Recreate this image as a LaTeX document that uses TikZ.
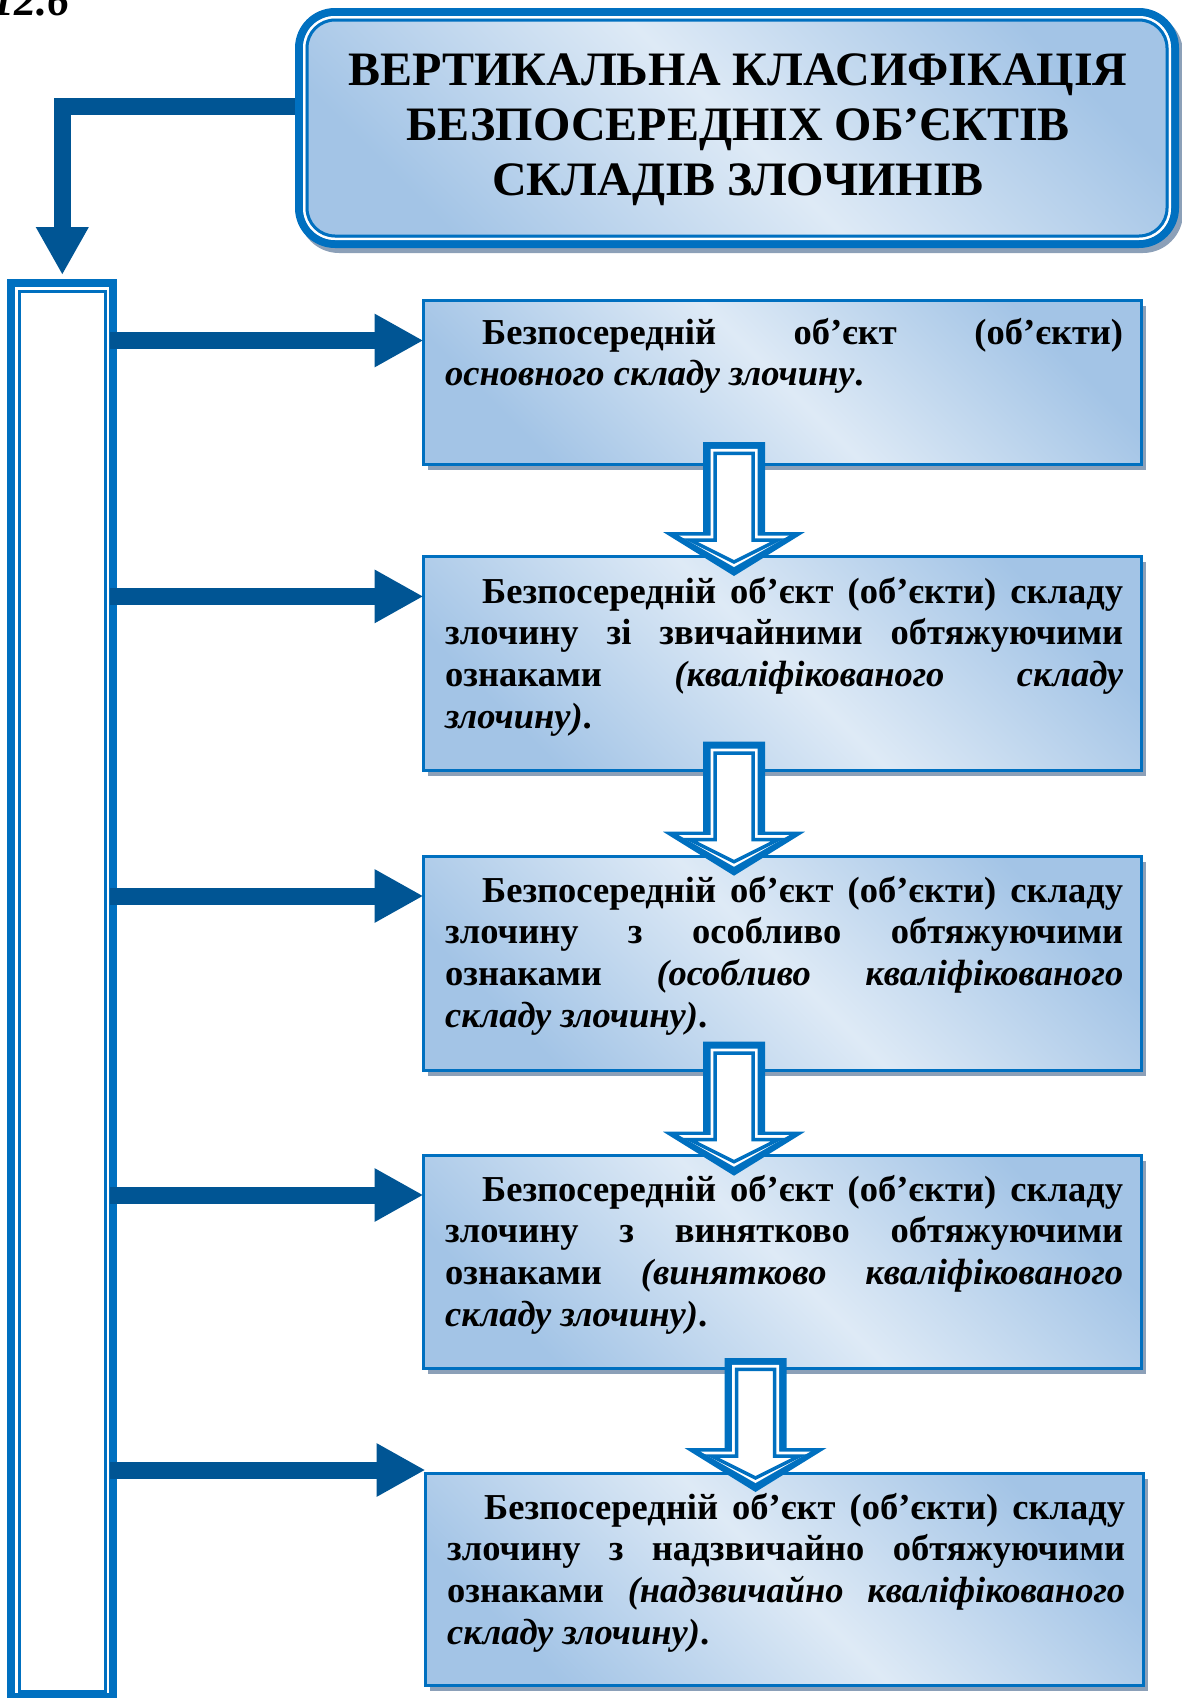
\documentclass[tikz,border=0pt]{standalone}
\usepackage{fontspec}
\setmainfont{Liberation Serif}
\usetikzlibrary{arrows.meta,shadows}
\definecolor{bordblue}{RGB}{0,112,192}
\definecolor{darrow}{RGB}{0,85,148}
\definecolor{shlight}{RGB}{222,234,246}
\definecolor{shdark}{RGB}{163,196,230}
\definecolor{shadowgray}{RGB}{140,160,184}
\newcommand\boxtext[1]{\vtop{\fontsize{36.5pt}{41.7pt}\selectfont\bfseries\baselineskip=41.7pt #1}}
\newcommand\jline[1]{\hbox to 678pt{#1}}
\newcommand\iline[1]{\hbox to 678pt{\hskip 37pt #1}}
\newcommand\lline[1]{\hbox{#1}}
\newcommand\hollowarrow[2]{%
 \begin{scope}[shift={(#1,#2)}]
 \fill[bordblue] (-31,0) -- (31,0) -- (31,90) -- (71,90) -- (0,134) -- (-71,90) -- (-31,90) -- cycle;
 \fill[white] (-23.5,6.8) -- (23.5,6.8) -- (23.5,93.5) -- (55,93.5) -- (0,125) -- (-55,93.5) -- (-23.5,93.5) -- cycle;
 \draw[bordblue, line width=3.5pt, fill=white, line join=miter] (-19,11.3) -- (19,11.3) -- (19,98) -- (44,98) -- (0,120) -- (-44,98) -- (-19,98) -- cycle;
 \end{scope}}
\tikzset{
 cbox/.style={rectangle, draw=bordblue, line width=2.8pt, inner sep=0pt, outer sep=0pt, anchor=north west,
   minimum width=718pt, top color=shdark, bottom color=shdark, middle color=shlight, shading angle=-45,
   drop shadow={shadow xshift=4.5pt, shadow yshift=-5pt, fill=shadowgray, opacity=1}},
 harrow/.style={draw=darrow, line width=17pt, -{Triangle[length=49pt, width=50pt]}},
 txt/.style={anchor=base west, inner sep=0pt}
}
\begin{document}
\begin{tikzpicture}[x=1pt,y=-1pt]
\useasboundingbox (0,0) rectangle (1182,1698);
% figure number
\node[anchor=base east, inner sep=0pt, font=\fontsize{44pt}{48pt}\selectfont\bfseries\itshape] (fig) at (70,15) {12.6};
% left bar
\node[draw=bordblue, line width=8pt, fill=white, minimum width=102pt, minimum height=1414pt, anchor=north west, inner sep=0pt, outer sep=0pt] (bar) at (11,283) {};
\draw[bordblue, line width=3pt] ([shift={(8,8)}]bar.north west) rectangle ([shift={(-8,-6)}]bar.south east);
% connector from the title to the bar
\coordinate (c0) at (62.3,106.2);
\coordinate (tipL) at ([yshift=8pt]bar.north);
\coordinate (tw) at (299,128);
\draw[darrow, line width=17.2pt, line join=miter, -{Triangle[length=48pt,width=49.4pt]}] (tw |- c0) -- (c0) -- (c0 |- tipL);
% title
\fill[shadowgray, rounded corners=40pt] (299,13) rectangle (1183,253);
\node[draw=bordblue, line width=8pt, rounded corners=36pt, minimum width=876pt, minimum height=232pt, anchor=north west, inner sep=0pt, outer sep=0pt,
  top color=shdark, bottom color=shdark, middle color=shlight, shading angle=-45] (title) at (299,12) {};
\draw[white, line width=2.5pt, rounded corners=30.75pt] (304.25,17.25) rectangle (1169.75,238.75);
\draw[bordblue, line width=3pt, rounded corners=28pt] (307,20) rectangle (1167,236);
\node[anchor=base, inner sep=0pt] (tt) at (738,85) {\vtop{\fontsize{48pt}{55pt}\selectfont\bfseries\baselineskip=55pt
  \hbox to 0pt{\hss ВЕРТИКАЛЬНА КЛАСИФІКАЦІЯ\hss}\hbox to 0pt{\hss БЕЗПОСЕРЕДНІХ ОБ’ЄКТІВ\hss}\hbox to 0pt{\hss СКЛАДІВ ЗЛОЧИНІВ\hss}}};
% boxes
\node[cbox, minimum height=164pt] (b1) at (423.5,300.5) {};
\node[cbox, minimum height=214pt] (b2) at (423.5,556.5) {};
\node[cbox, minimum height=214pt] (b3) at (423.5,856.5) {};
\node[cbox, minimum height=213pt] (b4) at (423.5,1155.5) {};
\node[cbox, minimum height=212pt] (b5) at (425.5,1473.5) {};
% horizontal arrows
\coordinate (c1) at (0,340.5);
\coordinate (c2) at (0,596.4);
\coordinate (c3) at (0,896);
\coordinate (c4) at (0,1195);
\coordinate (c5) at (0,1470);
\draw[harrow] ([xshift=-3pt]bar.east |- c1) -- (b1.west |- c1);
\draw[harrow] ([xshift=-3pt]bar.east |- c2) -- (b2.west |- c2);
\draw[harrow] ([xshift=-3pt]bar.east |- c3) -- (b3.west |- c3);
\draw[harrow] ([xshift=-3pt]bar.east |- c4) -- (b4.west |- c4);
\draw[harrow] ([xshift=-3pt]bar.east |- c5) -- (b5.west |- c5);
% hollow down arrows
\hollowarrow{734}{442}
\hollowarrow{734}{741.7}
\hollowarrow{734}{1041.7}
\hollowarrow{755.5}{1358}
% texts
\node[txt] (x1) at (445,344) {\boxtext{\iline{Безпосередній об’єкт (об’єкти)}\lline{\textit{основного складу злочину}.}}};
\node[txt] (x2) at (445,603) {\boxtext{\iline{Безпосередній об’єкт (об’єкти) складу}\jline{злочину зі звичайними обтяжуючими}\jline{ознаками \textit{(кваліфікованого} \textit{складу}}\lline{\textit{злочину)}.}}};
\node[txt] (x3) at (445,902) {\boxtext{\iline{Безпосередній об’єкт (об’єкти) складу}\jline{злочину з особливо обтяжуючими}\jline{ознаками \textit{(особливо кваліфікованого}}\lline{\textit{складу злочину)}.}}};
\node[txt] (x4) at (445,1201) {\boxtext{\iline{Безпосередній об’єкт (об’єкти) складу}\jline{злочину з винятково обтяжуючими}\jline{ознаками \textit{(винятково кваліфікованого}}\lline{\textit{складу злочину)}.}}};
\node[txt] (x5) at (447,1519) {\boxtext{\iline{Безпосередній об’єкт (об’єкти) складу}\jline{злочину з надзвичайно обтяжуючими}\jline{ознаками \textit{(надзвичайно кваліфікованого}}\lline{\textit{складу злочину)}.}}};
\end{tikzpicture}
\end{document}
